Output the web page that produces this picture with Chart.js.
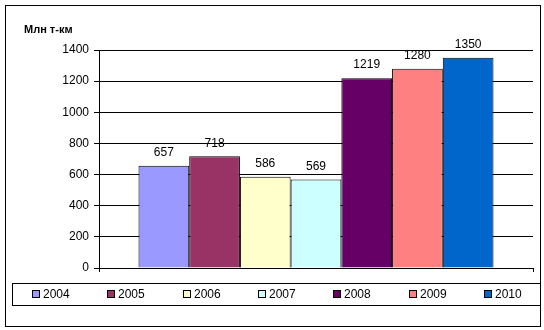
<!DOCTYPE html>
<html>
<head>
<meta charset="utf-8">
<script src="https://cdn.jsdelivr.net/npm/chart.js@4.4.0/dist/chart.umd.min.js"></script>
<style>
    html, body { margin: 0; padding: 0; background: #fff; }
    #wrap { width: 544px; height: 330px; }
</style>
</head>
<body>
<div id="wrap"><canvas id="chart" width="544" height="330"></canvas></div>
<script>
const years = ["2004", "2005", "2006", "2007", "2008", "2009", "2010"];
const values = [657, 718, 586, 569, 1219, 1280, 1350];
const colors = ["#9999FF", "#993366", "#FFFFCC", "#CCFFFF", "#660066", "#FF8080", "#0066CC"];
const yTicks = [0, 200, 400, 600, 800, 1000, 1200, 1400];
const unitLabel = "Млн т-км";

const FONT = "Arial, 'Liberation Sans', sans-serif";

// white page, outer frame, legend box, unit title
const framePlugin = {
    id: "frame",
    beforeDraw(chart) {
        const ctx = chart.ctx;
        ctx.save();
        ctx.fillStyle = "#fff";
        ctx.fillRect(0, 0, chart.width, chart.height);
        ctx.restore();
    },
    afterDraw(chart) {
        const ctx = chart.ctx;
        ctx.save();
        ctx.strokeStyle = "#000";
        ctx.lineWidth = 1;
        ctx.strokeRect(5.5, 5.5, 535, 321);
        ctx.strokeRect(12.5, 283.5, 528, 22);

        // legend items
        ctx.font = "12px " + FONT;
        ctx.textBaseline = "middle";
        ctx.textAlign = "left";
        chart.data.datasets.forEach((ds, i) => {
            const x = Math.round(32 + i * 75.3);
            ctx.fillStyle = ds.backgroundColor;
            ctx.fillRect(x + 0.5, 290.5, 7, 7);
            ctx.strokeRect(x + 0.5, 290.5, 7, 7);
            ctx.fillStyle = "#000";
            ctx.fillText(ds.label, x + 11, 294.5);
        });

        ctx.font = "bold 11px " + FONT;
        ctx.fillText(unitLabel, 24, 30);
        ctx.restore();
    }
};

// value above each bar
const valueLabels = {
    id: "valueLabels",
    afterDatasetsDraw(chart) {
        const ctx = chart.ctx;
        ctx.save();
        ctx.font = "12px " + FONT;
        ctx.fillStyle = "#000";
        ctx.textAlign = "center";
        ctx.textBaseline = "middle";
        chart.data.datasets.forEach((ds, i) => {
            const meta = chart.getDatasetMeta(i);
            meta.data.forEach((bar, j) => {
                ctx.fillText(String(ds.data[j]), bar.x, bar.y - 13);
            });
        });
        ctx.restore();
    }
};

function buildChart() {
    const ctx = document.getElementById("chart");
    new Chart(ctx, {
        type: "bar",
        data: {
            labels: [""],
            datasets: years.map((y, i) => ({
                label: y,
                data: [values[i]],
                backgroundColor: colors[i],
                borderColor: "#000",
                borderWidth: 1,
                barPercentage: 1,
                categoryPercentage: 0.818
            }))
        },
        options: {
            responsive: false,
            animation: false,
            layout: { padding: { left: 0, top: 50, right: 11, bottom: 58 } },
            plugins: {
                legend: { display: false },
                tooltip: { enabled: false }
            },
            scales: {
                x: {
                    ticks: { display: false },
                    grid: { drawOnChartArea: false, color: "#000", tickLength: 4 },
                    border: { color: "#000" },
                    afterFit: s => { s.height = 4; }
                },
                y: {
                    min: 0,
                    max: 1400,
                    afterBuildTicks: s => { s.ticks = yTicks.map(v => ({ value: v })); },
                    ticks: {
                        color: "#000",
                        padding: 5,
                        font: { family: FONT, size: 12 },
                        callback: v => String(v)
                    },
                    grid: { color: "#000", lineWidth: 1, tickLength: 5 },
                    border: { color: "#000" },
                    afterFit: s => { s.width = 99; }
                }
            }
        },
        plugins: [framePlugin, valueLabels]
    });
}

if (document.readyState === "loading") {
    document.addEventListener("DOMContentLoaded", buildChart);
} else {
    buildChart();
}
</script>
</body>
</html>
